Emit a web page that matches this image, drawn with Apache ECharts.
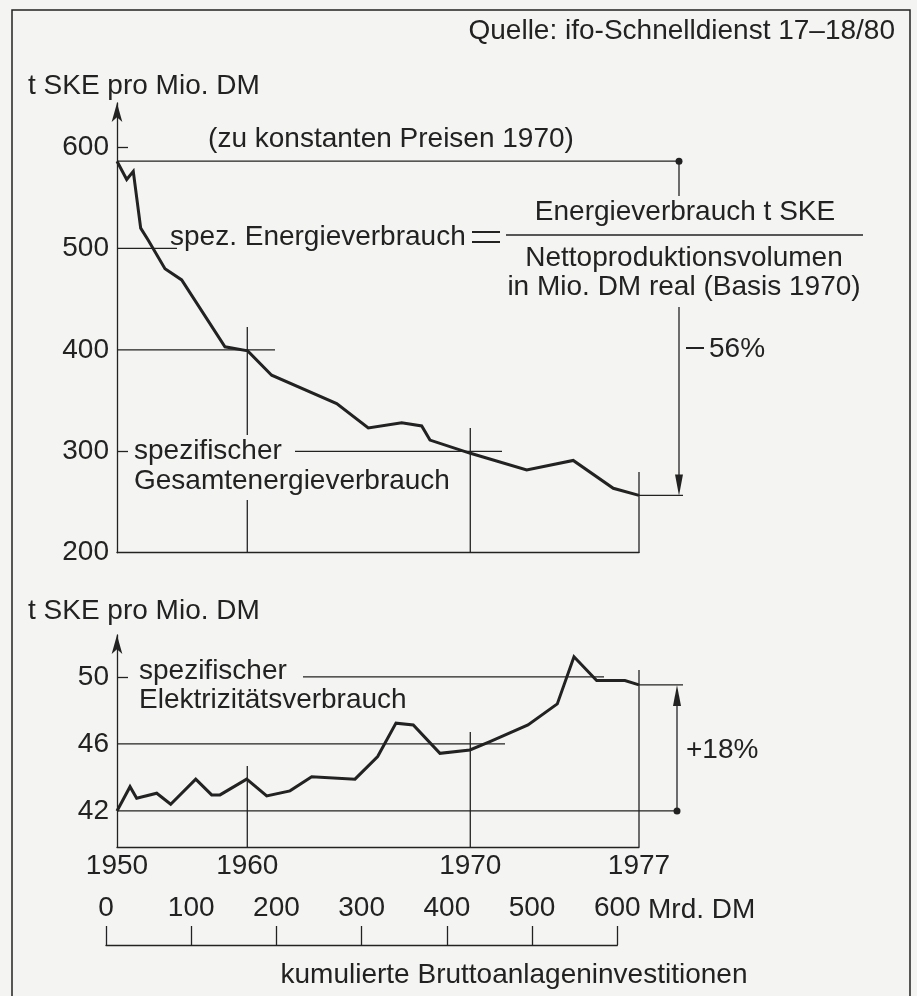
<!DOCTYPE html>
<html>
<head>
<meta charset="utf-8">
<title>Spezifischer Energieverbrauch</title>
<script src="https://cdn.jsdelivr.net/npm/echarts@6/dist/echarts.min.js"></script>
<style>
  html, body { margin: 0; padding: 0; background: #f4f4f2; }
  #chart { width: 917px; height: 996px; }
</style>
</head>
<body>
<div id="chart"></div>
<script>
// x-Werte: kumulierte Bruttoanlageninvestitionen (Mrd. DM)
const gesamtX = [12.9, 24.3, 32.0, 40.7, 49.6, 69.2, 88.8, 139.6, 166.3, 194.4,
                 270.7, 307.8, 347.0, 370.5, 380.2, 427.7, 493.7, 548.3, 595.3, 625.5];
const gesamtY = [586, 568, 576, 520, 508, 480, 469, 403, 399, 375,
                 347, 323, 328, 325, 311, 298, 281.5, 291, 263.5, 256.5];

const elekX = [12.9, 28.2, 36.0, 59.5, 75.9, 105.3, 124.0, 133.8, 165.1, 188.6,
               215.9, 241.4, 292.2, 318.8, 340.3, 360.6, 391.9, 427.1, 450.6, 495.2,
               529.6, 549.2, 575.8, 609.0, 625.5];
const elekY = [42.0, 43.45, 42.76, 43.06, 42.4, 43.9, 42.96, 42.96, 43.9, 42.9,
               43.2, 44.04, 43.9, 45.25, 47.24, 47.13, 45.44, 45.64, 46.14, 47.13,
               48.39, 51.2, 49.78, 49.78, 49.52];

// Jahresmarken auf der Investitionsachse
const jahre = ['1950', '1960', '1970', '1977'];
const jahrX = [12.9, 165.8, 427.5, 625.5];

const gesamtTicks = [200, 300, 400, 500, 600];
const elekTicks = [42, 46, 50];
const investTicks = [0, 100, 200, 300, 400, 500, 600];

const FONT = "'Liberation Sans', Arial, Helvetica, sans-serif";
const INK = '#222';
const axisStroke = { color: INK, width: 1.3 };

const chart = echarts.init(document.getElementById('chart'));

const jahrLabel = v => {
  const i = jahrX.findIndex(x => Math.abs(x - v) < 0.5);
  return i >= 0 ? jahre[i] : '';
};

chart.setOption({
  backgroundColor: '#f4f4f2',
  animation: false,
  textStyle: { fontFamily: FONT, color: INK },
  grid: [
    { left: 117, top: 103, width: 522, height: 449.7 },
    { left: 117, top: 635, width: 522, height: 212 },
    { left: 106, top: 900, width: 511.3, height: 45 }
  ],
  xAxis: [
    {
      gridIndex: 0, type: 'value', min: jahrX[0], max: jahrX[3],
      axisLine: { onZero: false, lineStyle: axisStroke },
      axisTick: { show: false }, axisLabel: { show: false }, splitLine: { show: false }
    },
    {
      gridIndex: 1, type: 'value', min: jahrX[0], max: jahrX[3],
      axisLine: { onZero: false, lineStyle: axisStroke },
      axisTick: { show: false }, splitLine: { show: false },
      axisLabel: {
        customValues: jahrX, formatter: jahrLabel,
        fontSize: 28, color: INK, margin: 5, fontFamily: FONT
      }
    },
    {
      gridIndex: 2, type: 'value', min: 0, max: 600,
      axisLine: { onZero: false, lineStyle: axisStroke },
      axisTick: { customValues: investTicks, inside: true, length: 19, lineStyle: axisStroke },
      splitLine: { show: false },
      axisLabel: {
        customValues: investTicks, inside: true, margin: 23,
        fontSize: 28, color: INK, fontFamily: FONT
      }
    }
  ],
  yAxis: [
    {
      gridIndex: 0, type: 'value', min: 200, max: 643.4,
      axisLine: { show: true, onZero: false, lineStyle: axisStroke,
        symbol: ['none', 'arrow'], symbolSize: [8, 19] },
      axisTick: { customValues: [300, 600], inside: true, length: 11, lineStyle: axisStroke },
      splitLine: { show: false },
      axisLabel: { customValues: gesamtTicks, fontSize: 28, color: INK, margin: 8, fontFamily: FONT }
    },
    {
      gridIndex: 1, type: 'value', min: 39.85, max: 52.5,
      axisLine: { show: true, onZero: false, lineStyle: axisStroke,
        symbol: ['none', 'arrow'], symbolSize: [8, 19] },
      axisTick: { customValues: [50], inside: true, length: 11, lineStyle: axisStroke },
      splitLine: { show: false },
      axisLabel: { customValues: elekTicks, fontSize: 28, color: INK, margin: 8, fontFamily: FONT }
    },
    { gridIndex: 2, type: 'value', show: false, min: 0, max: 1 }
  ],
  series: [
    {
      name: 'spezifischer Gesamtenergieverbrauch', type: 'line',
      xAxisIndex: 0, yAxisIndex: 0, showSymbol: false, clip: false,
      data: gesamtX.map((x, i) => [x, gesamtY[i]]),
      lineStyle: { color: INK, width: 3, join: 'miter' }
    },
    {
      name: 'spezifischer Elektrizitätsverbrauch', type: 'line',
      xAxisIndex: 1, yAxisIndex: 1, showSymbol: false, clip: false,
      data: elekX.map((x, i) => [x, elekY[i]]),
      lineStyle: { color: INK, width: 3, join: 'miter' }
    }
  ]
});

// Beschriftungen und Hilfslinien
const px = (g, x, y) => chart.convertToPixel({ gridIndex: g }, [x, y]);

const seg = (x1, y1, x2, y2, w) => ({
  type: 'line', silent: true, shape: { x1, y1, x2, y2 },
  style: { stroke: INK, lineWidth: w || 1.3 }
});
const txt = (x, y, text, align) => ({
  type: 'text', silent: true, x, y,
  style: {
    text, fill: INK, font: '28px ' + FONT,
    align: align || 'left', verticalAlign: 'middle',
    textAlign: align || 'left', textVerticalAlign: 'middle'
  }
});
const dot = (x, y) => ({ type: 'circle', silent: true, shape: { cx: x, cy: y, r: 3.5 }, style: { fill: INK } });
const arrowDown = (x, y) => ({ type: 'polygon', silent: true,
  shape: { points: [[x, y], [x - 4, y - 21], [x + 4, y - 21]] }, style: { fill: INK } });
const arrowUp = (x, y) => ({ type: 'polygon', silent: true,
  shape: { points: [[x, y], [x - 4, y + 21], [x + 4, y + 21]] }, style: { fill: INK } });

// oberes Diagramm
const ax0 = px(0, jahrX[0], 200)[0];
const bot0 = px(0, jahrX[0], 200)[1];
const yStart0 = px(0, jahrX[0], gesamtY[0])[1];
const yEnd0 = px(0, jahrX[3], gesamtY[gesamtY.length - 1])[1];
const y500 = px(0, 0, 500)[1], y400 = px(0, 0, 400)[1], y300 = px(0, 0, 300)[1];
const x1960 = px(0, jahrX[1], 0)[0], x1970 = px(0, jahrX[2], 0)[0], x1977 = px(0, jahrX[3], 0)[0];

// unteres Diagramm
const bot1 = px(1, jahrX[0], 39.85)[1];
const yStart1 = px(1, jahrX[0], elekY[0])[1];
const yEnd1 = px(1, jahrX[3], elekY[elekY.length - 1])[1];
const y46 = px(1, 0, 46)[1], y50 = px(1, 0, 50)[1];

const graphics = [
  { type: 'rect', silent: true, shape: { x: 12, y: 10, width: 898, height: 1000 },
    style: { fill: 'none', stroke: INK, lineWidth: 1.5 } },
  txt(895, 31, 'Quelle: ifo-Schnelldienst 17–18/80', 'right'),
  txt(28, 86, 't SKE pro Mio. DM'),
  txt(391, 139, '(zu konstanten Preisen 1970)', 'center'),

  seg(ax0, yStart0, 679, yStart0), dot(679, yStart0),
  seg(679, yStart0, 679, 196),
  seg(679, 307, 679, yEnd0 - 18), arrowDown(679, yEnd0),
  seg(x1977, yEnd0, 683, yEnd0),
  seg(ax0, y500, 177, y500),
  seg(ax0, y400, 275, y400),
  seg(295, y300, 502, y300),
  seg(x1960, 327, x1960, 435), seg(x1960, 500, x1960, bot0),
  seg(x1970, 428, x1970, bot0),
  seg(x1977, 472, x1977, bot0),

  txt(170, 237, 'spez. Energieverbrauch'),
  seg(472, 232, 500, 232, 2), seg(472, 242, 500, 242, 2),
  txt(685, 212, 'Energieverbrauch t SKE', 'center'),
  seg(506, 235, 863, 235),
  txt(684, 258, 'Nettoproduktionsvolumen', 'center'),
  txt(684, 287, 'in Mio. DM real (Basis 1970)', 'center'),
  seg(686, 348, 704, 348, 2),
  txt(709, 349, '56%'),
  txt(134, 451, 'spezifischer'),
  txt(134, 481, 'Gesamtenergieverbrauch'),

  txt(28, 611, 't SKE pro Mio. DM'),
  seg(ax0, yStart1, 677, yStart1), dot(677, yStart1),
  seg(677, yStart1, 677, yEnd1 + 18), arrowUp(677, yEnd1),
  seg(x1977, yEnd1, 683, yEnd1),
  seg(ax0, y46, 505, y46),
  seg(303, y50, 604, y50),
  seg(x1960, 766, x1960, bot1),
  seg(x1970, 732, x1970, bot1),
  seg(x1977, 670, x1977, bot1),
  txt(139, 671, 'spezifischer'),
  txt(139, 700, 'Elektrizitätsverbrauch'),
  txt(686, 750, '+18%'),

  txt(648, 910, 'Mrd. DM'),
  txt(514, 975, 'kumulierte Bruttoanlageninvestitionen', 'center')
];

chart.setOption({ graphic: { elements: graphics } });
</script>
</body>
</html>
